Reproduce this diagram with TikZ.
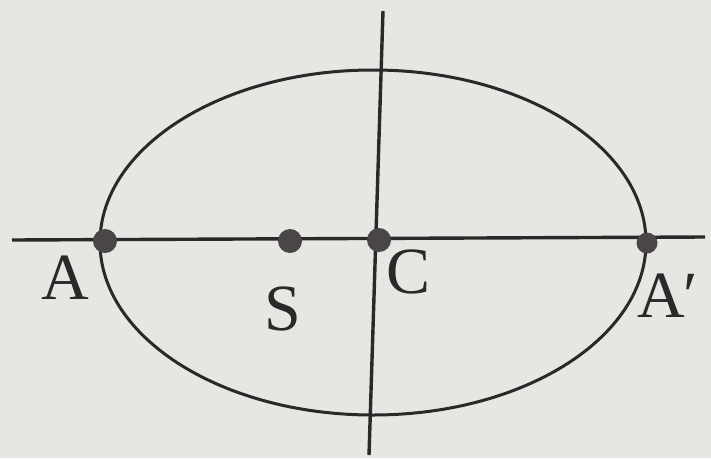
\documentclass[tikz,border=0pt]{standalone}
\usepackage{fontspec}
\setmainfont{Liberation Serif}
\definecolor{paper}{HTML}{E6E6E3}
\definecolor{ink}{HTML}{2A2829}
\definecolor{dotc}{HTML}{4A4547}
\tikzset{
  curve/.style={draw=ink, line width=3pt},
  axis/.style={draw=ink, line width=3.4pt},
  pt/.style={circle, fill=dotc, minimum size=24pt, inner sep=0pt},
  lab/.style={font=\fontsize{66}{70}\selectfont, text=ink, inner sep=0pt}
}
\begin{document}
\begin{tikzpicture}[x=1pt,y=-1pt]
\fill[paper] (0,0) rectangle (711,458);
\useasboundingbox (0,0) rectangle (711,458);
\coordinate (L) at (12,240);
\coordinate (R) at (705,237);
\coordinate (T) at (383,11);
\coordinate (B) at (369,455);
\draw[curve] (373,242.5) ellipse [x radius=273, y radius=172.5];
\draw[axis] (L) -- (R);
\draw[axis] (T) -- (B);
\node[pt] (a) at (105,241) {};
\node[pt] (s) at (290,241) {};
\node[pt] (c) at (379,240) {};
\node[pt, minimum size=21pt] (a2) at (647,243) {};
\node[lab] (la) at (65,278) {A};
\node[lab] (ls) at (283,309) {S};
\node[lab] (lc) at (409,272) {C};
\node[lab, anchor=west] (la2) at (637,296) {A\kern-1pt\char"2032};
\end{tikzpicture}
\end{document}
